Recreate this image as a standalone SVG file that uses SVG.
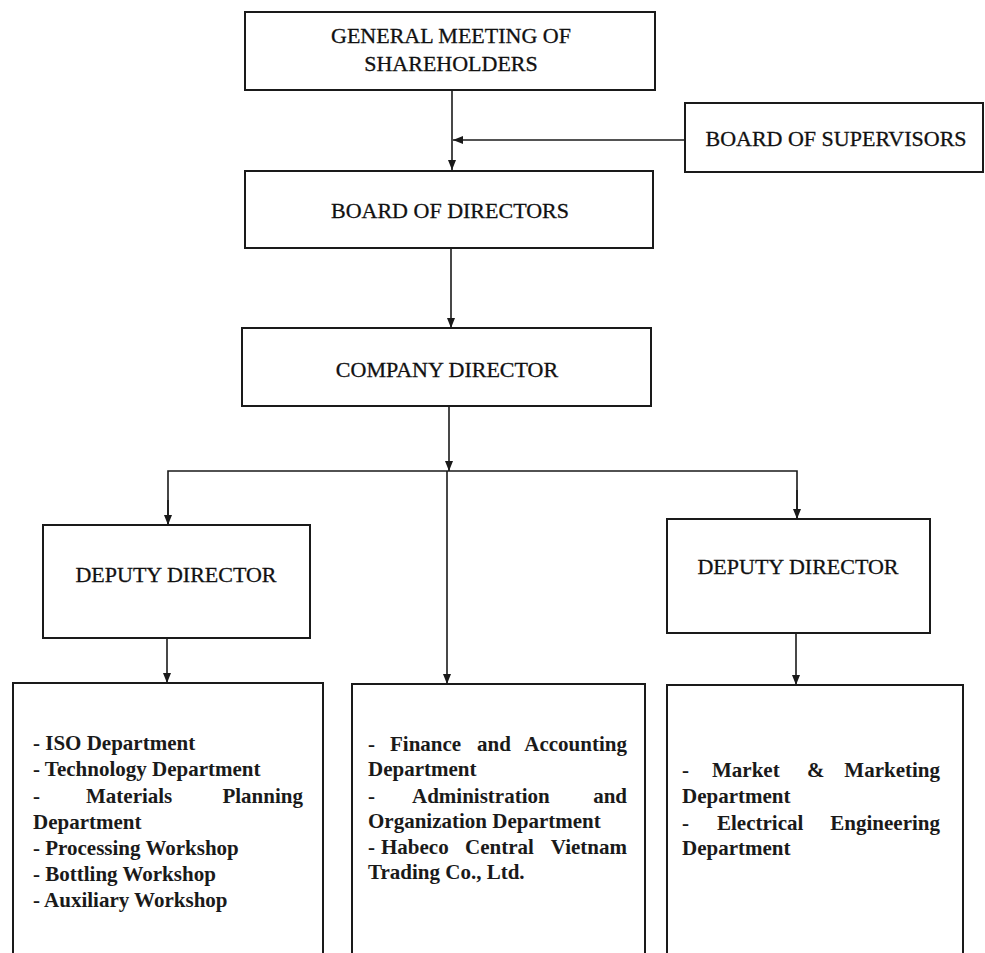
<svg xmlns="http://www.w3.org/2000/svg" width="985" height="953" viewBox="0 0 985 953">
<defs>
<style>
.box{fill:#fff;stroke:#1a1a1a;stroke-width:2}
.ln{fill:none;stroke:#1a1a1a;stroke-width:1.6}
.h{font-family:"Liberation Serif","Times New Roman",serif;font-size:22px;fill:#111;stroke:#111;stroke-width:0.3;text-anchor:middle}
.b{font-family:"Liberation Serif","Times New Roman",serif;font-size:21px;font-weight:bold;fill:#1a1a1a}
</style>
<marker id="ah" markerUnits="userSpaceOnUse" markerWidth="10" markerHeight="10" viewBox="0 0 10 10" refX="10" refY="5" orient="auto">
<path d="M0,1 L10,5 L0,9 Z" fill="#1a1a1a"/>
</marker>
</defs>
<rect width="985" height="953" fill="#fff"/>
<g id="connectors">
<line class="ln" x1="452" y1="90" x2="452" y2="170" marker-end="url(#ah)"/>
<line class="ln" x1="685" y1="140" x2="453" y2="140" marker-end="url(#ah)"/>
<line class="ln" x1="451" y1="248" x2="451" y2="328" marker-end="url(#ah)"/>
<line class="ln" x1="449" y1="406" x2="449" y2="471" marker-end="url(#ah)"/>
<line class="ln" x1="447" y1="471" x2="447" y2="684" marker-end="url(#ah)"/>
<polyline class="ln" points="168,525 168,471 797,471 797,519"/>
<line class="ln" x1="168" y1="500" x2="168" y2="525" marker-end="url(#ah)"/>
<line class="ln" x1="797" y1="490" x2="797" y2="519" marker-end="url(#ah)"/>
<line class="ln" x1="167" y1="638" x2="167" y2="683" marker-end="url(#ah)"/>
<line class="ln" x1="796" y1="633" x2="796" y2="685" marker-end="url(#ah)"/>
</g>
<g id="gms">
<rect class="box" x="245" y="12" width="410" height="78"/>
<text class="h" x="451" y="43">GENERAL MEETING OF</text>
<text class="h" x="451" y="71">SHAREHOLDERS</text>
</g>
<g id="bos">
<rect class="box" x="685" y="103" width="298" height="69"/>
<text class="h" x="836" y="146">BOARD OF SUPERVISORS</text>
</g>
<g id="bod">
<rect class="box" x="245" y="171" width="408" height="77"/>
<text class="h" x="450" y="218">BOARD OF DIRECTORS</text>
</g>
<g id="company-director">
<rect class="box" x="242" y="328" width="409" height="78"/>
<text class="h" x="447" y="377">COMPANY DIRECTOR</text>
</g>
<g id="deputy-left">
<rect class="box" x="43" y="525" width="267" height="113"/>
<text class="h" x="176" y="582">DEPUTY DIRECTOR</text>
</g>
<g id="deputy-right">
<rect class="box" x="667" y="519" width="263" height="114"/>
<text class="h" x="798" y="574">DEPUTY DIRECTOR</text>
</g>
<g id="dept-left">
<rect class="box" x="13" y="683" width="310" height="290"/>
<text class="b" x="33" y="750">- ISO Department</text>
<text class="b" x="33" y="776">- Technology Department</text>
<text class="b" y="803"><tspan x="33">-</tspan><tspan x="86">Materials</tspan><tspan x="303" text-anchor="end">Planning</tspan></text>
<text class="b" x="33" y="829">Department</text>
<text class="b" x="33" y="855">- Processing Workshop</text>
<text class="b" x="33" y="881">- Bottling Workshop</text>
<text class="b" x="33" y="907">- Auxiliary Workshop</text>
</g>
<g id="dept-middle">
<rect class="box" x="352" y="684" width="293" height="290"/>
<text class="b" y="751"><tspan x="368">-</tspan><tspan x="390">Finance</tspan><tspan x="477">and</tspan><tspan x="627" text-anchor="end">Accounting</tspan></text>
<text class="b" x="368" y="776">Department</text>
<text class="b" y="803"><tspan x="368">-</tspan><tspan x="412">Administration</tspan><tspan x="627" text-anchor="end">and</tspan></text>
<text class="b" x="368" y="828">Organization Department</text>
<text class="b" y="854"><tspan x="368">-</tspan><tspan x="381">Habeco</tspan><tspan x="465">Central</tspan><tspan x="627" text-anchor="end">Vietnam</tspan></text>
<text class="b" x="368" y="879">Trading Co., Ltd.</text>
</g>
<g id="dept-right">
<rect class="box" x="667" y="685" width="296" height="290"/>
<text class="b" y="777"><tspan x="682">-</tspan><tspan x="712">Market</tspan><tspan x="807">&amp;</tspan><tspan x="940" text-anchor="end">Marketing</tspan></text>
<text class="b" x="682" y="803">Department</text>
<text class="b" y="830"><tspan x="682">-</tspan><tspan x="717">Electrical</tspan><tspan x="940" text-anchor="end">Engineering</tspan></text>
<text class="b" x="682" y="855">Department</text>
</g>
</svg>
